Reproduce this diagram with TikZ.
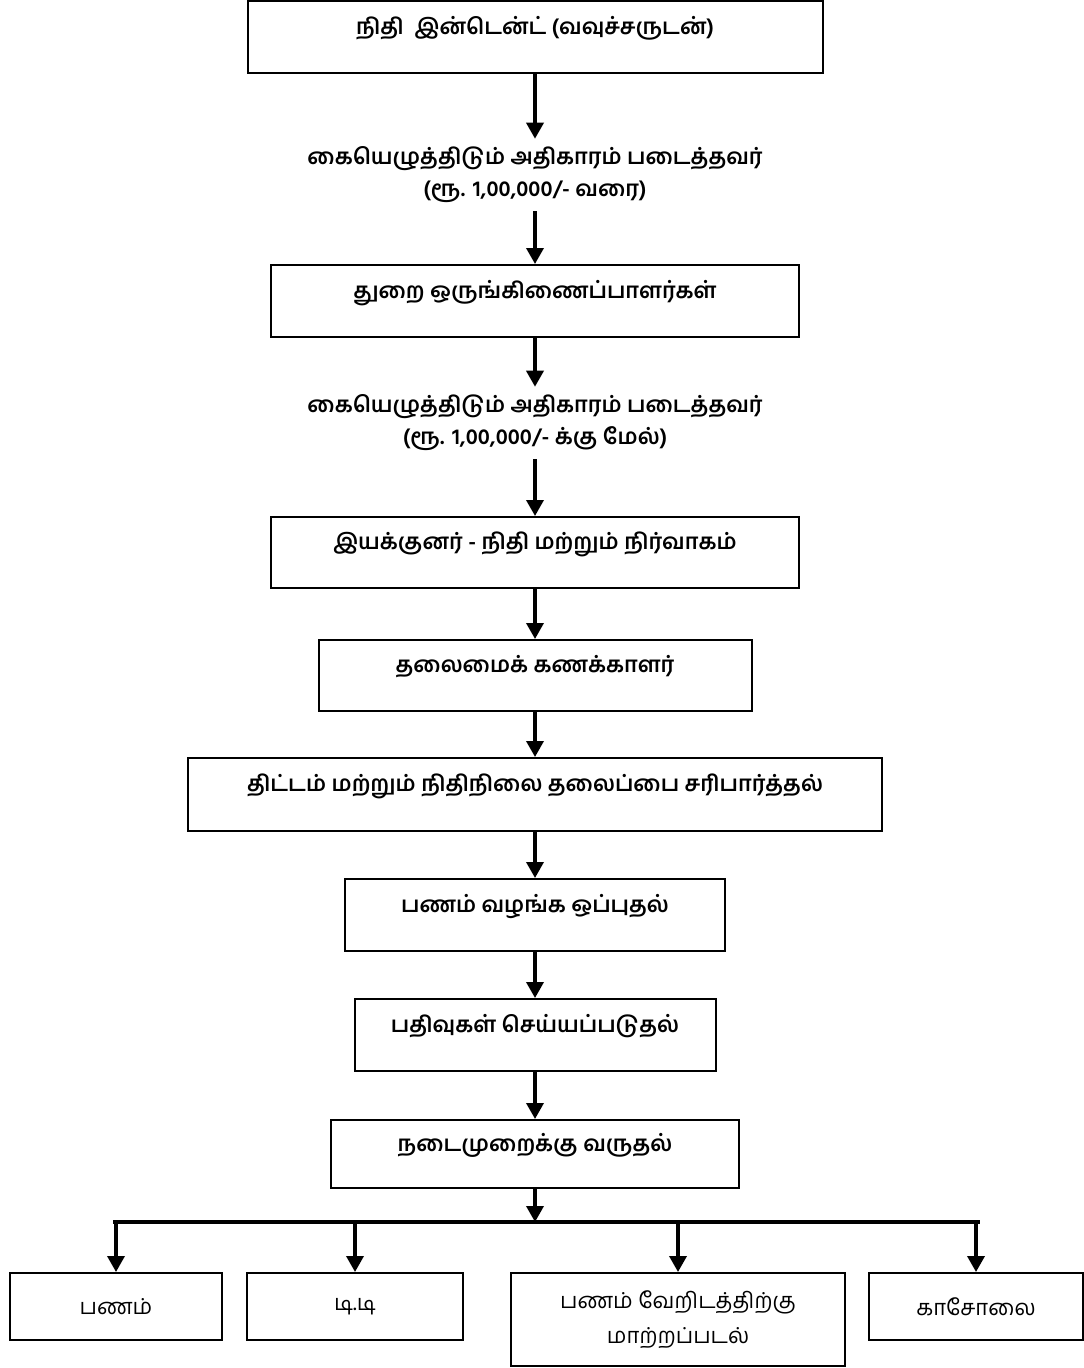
\documentclass[tikz,border=0pt]{standalone}
\usepackage{fontspec}
\newfontfamily\tamilfont[Script=Tamil]{Hind Madurai}
\usetikzlibrary{arrows.meta}

\begin{document}
\begin{tikzpicture}[x=1pt, y=-1pt,
        mainbox/.style={draw, line width=2pt, minimum height=72pt, text height=12pt, text depth=18pt, inner ysep=0pt, font=\tamilfont\bfseries\fontsize{22}{32}\selectfont},
        sigtext/.style={align=center, inner ysep=8pt, font=\tamilfont\bfseries\fontsize{22}{32}\selectfont},
        leafbox/.style={draw, line width=2pt, align=center, font=\tamilfont\fontsize{22}{35}\selectfont},
        flow/.style={line width=3.5pt, -{Triangle[length=16pt, width=17pt]}}]
        \useasboundingbox (0,0) rectangle (1084,1368);

        \draw (535,37) node[mainbox, minimum width=575pt] (indent) {நிதி~ இன்டென்ட் (வவுச்சருடன்)};
        \draw (535,175) node[sigtext] (sigA) {கையெழுத்திடும் அதிகாரம் படைத்தவர்\\(ரூ. 1,00,000/- வரை)};
        \draw (535,301) node[mainbox, minimum width=528pt] (coord) {துறை ஒருங்கிணைப்பாளர்கள்};
        \draw (535,423) node[sigtext] (sigB) {கையெழுத்திடும் அதிகாரம் படைத்தவர்\\(ரூ. 1,00,000/- க்கு மேல்)};
        \draw (535,552.5) node[mainbox, minimum width=528pt, minimum height=71pt] (director) {இயக்குனர் - நிதி மற்றும் நிர்வாகம்};
        \draw (535,675.5) node[mainbox, minimum width=433pt, minimum height=71pt] (accountant) {தலைமைக் கணக்காளர்};
        \draw (535,794.5) node[mainbox, minimum width=694pt, minimum height=73pt] (budget) {திட்டம் மற்றும் நிதிநிலை தலைப்பை சரிபார்த்தல்};
        \draw (535,915) node[mainbox, minimum width=380pt] (approve) {பணம் வழங்க ஒப்புதல்};
        \draw (535,1035) node[mainbox, minimum width=361pt] (entries) {பதிவுகள் செய்யப்படுதல்};
        \draw (535,1154) node[mainbox, minimum width=408pt, minimum height=68pt] (practice) {நடைமுறைக்கு வருதல்};

        \draw (116,1306.5) node[leafbox, minimum width=212pt, minimum height=67pt] (cash) {பணம்};
        \draw (355,1306.5) node[leafbox, minimum width=216pt, minimum height=67pt] (dd) {டி.டி};
        \draw (678,1319.5) node[leafbox, minimum width=334pt, minimum height=93pt] (transfer) {பணம் வேறிடத்திற்கு\\மாற்றப்படல்};
        \draw (976,1306.5) node[leafbox, minimum width=214pt, minimum height=67pt] (cheque) {காசோலை};

        \coordinate (split) at (535,1222);
        \coordinate (splitL) at (113,1222);
        \coordinate (splitR) at (980,1222);

        \draw[flow] (indent) -- (sigA);
        \draw[flow] (sigA) -- (coord);
        \draw[flow] (coord) -- (sigB);
        \draw[flow] (sigB) -- (director);
        \draw[flow] (director) -- (accountant);
        \draw[flow] (accountant) -- (budget);
        \draw[flow] (budget) -- (approve);
        \draw[flow] (approve) -- (entries);
        \draw[flow] (entries) -- (practice);
        \draw[flow] (practice) -- (split);

        \draw[line width=3.5pt] (splitL) -- (splitR);
        \draw[flow] (cash.north |- split) -- (cash);
        \draw[flow] (dd.north |- split) -- (dd);
        \draw[flow] (transfer.north |- split) -- (transfer);
        \draw[flow] (cheque.north |- split) -- (cheque);
    \end{tikzpicture}
\end{document}
